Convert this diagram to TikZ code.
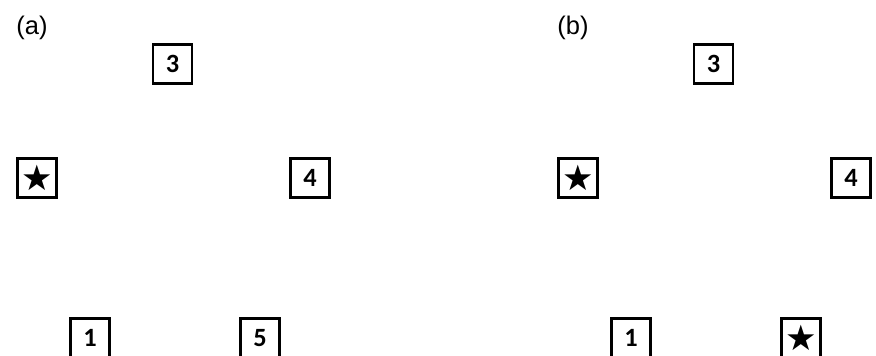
\documentclass[tikz,border=0pt]{standalone}
\usepackage{fontspec}
\setmainfont{Liberation Sans}
\newfontfamily\digitfont{Carlito}
\newfontfamily\symfont{DejaVu Sans}
\usepackage{tikz}
\usetikzlibrary{positioning}

\tikzset{
  cell/.style={draw,line width=1.6pt,minimum size=0.78cm,inner sep=0pt,
    font=\digitfont\bfseries\fontsize{15}{15}\selectfont},
  starcell/.style={cell,font=\symfont\fontsize{20}{20}\selectfont},
  panel/.style={font=\fontsize{14.5}{14.5}\selectfont}
}

\begin{document}
\begin{tikzpicture}
  \useasboundingbox (0,0) rectangle (17.52,7.1);
  % panel (a)
  \node[panel] (lbla) at (0.64,6.54) {(a)};
  \node[cell] (n3a) at (3.45,5.82) {3};
  \node[starcell] (sa) at (0.74,3.54) {★};
  \node[cell] (n4a) at (6.20,3.54) {4};
  \node[cell] (n1a) at (1.80,0.34) {1};
  \node[cell] (n5a) at (5.20,0.34) {5};
  % panel (b)
  \node[panel] (lblb) at (11.46,6.54) {(b)};
  \node[cell] (n3b) at (14.27,5.82) {3};
  \node[starcell] (sb) at (11.56,3.54) {★};
  \node[cell] (n4b) at (17.02,3.54) {4};
  \node[cell] (n1b) at (12.62,0.34) {1};
  \node[starcell] (s5b) at (16.02,0.34) {★};
\end{tikzpicture}
\end{document}
